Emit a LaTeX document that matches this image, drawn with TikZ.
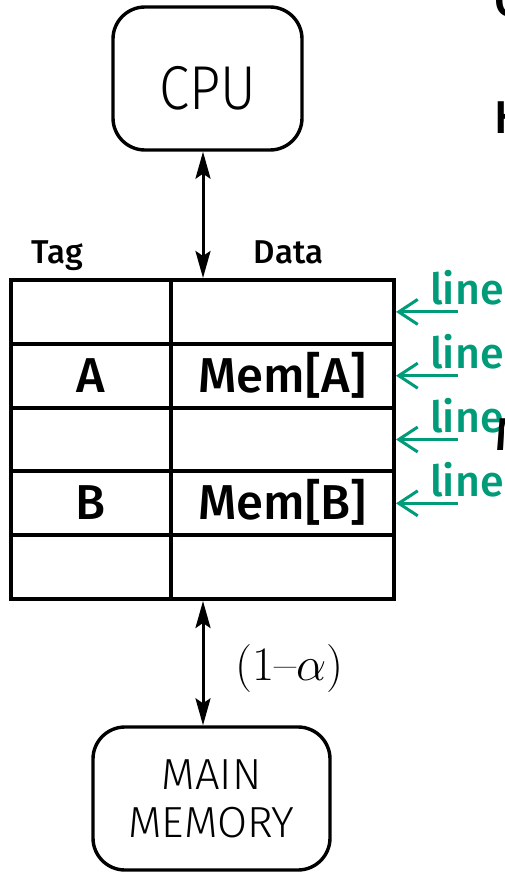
\RequirePackage{fix-cm}
\documentclass[tikz,border=0pt]{standalone}
\usepackage{fontspec}
\usetikzlibrary{arrows.meta}
\newfontfamily\thinfont{Fira Sans Light}
\newfontfamily\medfont{Fira Sans Medium}
\newfontfamily\regfont{Fira Sans}
\definecolor{linegreen}{RGB}{0,155,120}
\begin{document}
\begin{tikzpicture}[x=1pt,y=-1pt,
  unitbox/.style={draw, line width=3.4pt, rounded corners=32pt, inner sep=0pt, align=center},
  cell/.style={draw, line width=4pt, minimum height=63.8pt, inner sep=0pt, text height=33pt, text depth=0pt, font=\medfont\fontsize{49}{55}\selectfont},
  tagcell/.style={cell, minimum width=160pt},
  datacell/.style={cell, minimum width=223pt},
  biarrow/.style={line width=3pt, {Stealth[length=27pt,width=15pt,inset=5pt]}-{Stealth[length=27pt,width=15pt,inset=5pt]}},
  greenarrow/.style={draw=linegreen, line width=3pt, -{Straight Barb[length=19pt,width=25pt]}},
  greenlabel/.style={text=linegreen, font=\medfont\fontsize{43}{50}\selectfont, anchor=base west, inner sep=0pt},
  colhead/.style={font=\medfont\fontsize{33}{40}\selectfont, anchor=base, inner sep=0pt},
  edgeletter/.style={font=\medfont\fontsize{46}{50}\selectfont, anchor=base west, inner sep=0pt}
]
\useasboundingbox (0,0) rectangle (505,872);

% CPU
\node[unitbox, minimum width=189pt, minimum height=143pt, text height=63pt, text depth=0pt,
      font=\thinfont\fontsize{62}{62}\selectfont] (cpu) at (207.5,78.5) {\scalebox{0.88}[1]{CPU}};

% column headers
\node[colhead] (tag) at (57.5,263) {Tag};
\node[colhead] (data) at (288.5,263) {Data};

% table cells
\node[tagcell] (t1) at (91,311.9) {};
\node[datacell] (d1) at (282.5,311.9) {};
\node[tagcell] (t2) at (91,375.7) {A};
\node[datacell] (d2) at (282.5,375.7) {Mem[A]};
\node[tagcell] (t3) at (91,439.5) {};
\node[datacell] (d3) at (282.5,439.5) {};
\node[tagcell] (t4) at (91,503.3) {B};
\node[datacell] (d4) at (282.5,503.3) {Mem[B]};
\node[tagcell] (t5) at (91,567.1) {};
\node[datacell] (d5) at (282.5,567.1) {};

% main memory
\node[unitbox, minimum width=237pt, minimum height=143pt,
      font=\thinfont\fontsize{43.5}{48}\selectfont] (mem) at (211.5,798.5) {MAIN\\MEMORY};

% connectors
\coordinate (ax) at (203,0);
\draw[biarrow] (cpu.south -| ax) -- (d1.north -| ax);
\draw[biarrow] (d5.south -| ax) -- (mem.north -| ax);
\node[font=\fontsize{48}{52}\selectfont, anchor=west, inner sep=0pt] (alpha) at (235,669) {(1--$\alpha$)};

% green line pointers
\foreach \k/\y in {1/311.9,2/375.7,3/439.5,4/503.3}{
  \node[greenlabel] (l\k) at (430,\y-7) {line};
  \coordinate (g\k) at (458,\y);
  \draw[greenarrow] (g\k) -- (d\k.east);
}

% clipped letters at the right edge
\begin{scope}
\clip (0,0) rectangle (505,872);
\node[edgeletter] (ec) at (494,17) {C};
\node[edgeletter] (eh) at (494,133) {H};
\node[edgeletter] (em) at (495,450) {M};
\end{scope}
\end{tikzpicture}
\end{document}
